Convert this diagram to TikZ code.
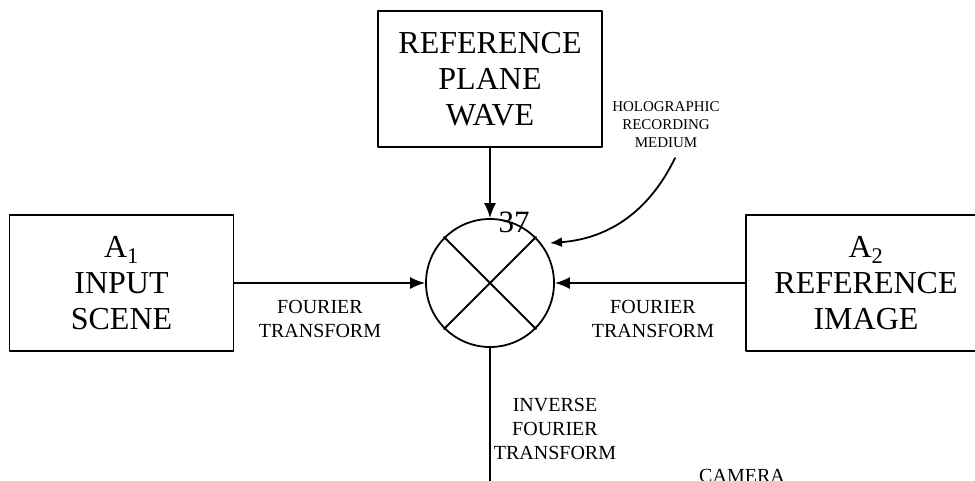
\documentclass[tikz,border=0pt]{standalone}
\usepackage{fontspec}
\setmainfont{Liberation Serif}
\usetikzlibrary{calc,arrows.meta}

\begin{document}
\begin{tikzpicture}[x=1pt,y=-1pt,line join=round,line cap=round,line width=1.8pt,
	>={Latex[length=15pt,width=12pt]},
	hop/.style={draw,line width=1.8pt,minimum width=224pt,minimum height=136pt,inner sep=0pt,align=center,font=\fontsize{32}{36}\selectfont},
	nhan/.style={inner sep=0pt,align=center,font=\fontsize{20}{24}\selectfont}]
	\useasboundingbox (0,0) rectangle (975,480);
	\clip (0,0) rectangle (975,480);
	% Bộ nhân ở giữa
	\def\bk{64}
	\coordinate (O) at (490,283);
	\node[draw,circle,minimum size=2*\bk pt,inner sep=0pt] (tron) at (O) {};
	\draw (tron.45)--(tron.225) (tron.135)--(tron.-45);
	\path (514,232) node[anchor=base,inner sep=0pt,font=\fontsize{31}{31}\selectfont] (so) {37};
	% Ba khối
	\node[hop] (song) at (490,79) {REFERENCE\\PLANE\\WAVE};
	\node[hop] (vao) at (121.5,283) {A\textsubscript{1}\\INPUT\\SCENE};
	\node[hop,minimum width=240pt] (anh) at (866,283) {A\textsubscript{2}\\REFERENCE\\IMAGE};
	\draw[->] (song.south)--(tron.north);
	\draw[->] (vao.east)--(tron.west);
	\draw[->] (anh.west)--(tron.east);
	\coordinate (day) at (490,495);
	\draw (tron.south)--(day);
	% Môi trường ghi
	\coordinate (goc) at (675,158);
	\coordinate (dich) at (550,243);
	\draw[-{Latex[length=12pt,width=10pt]}] (goc) to[bend left=30] (dich);
	\path (666,125) node[nhan,font=\fontsize{15}{18}\selectfont] (ghi) {HOLOGRAPHIC\\RECORDING\\MEDIUM};
	\path (320,318.5) node[nhan] (ft1) {FOURIER\\TRANSFORM};
	\path (653,318.5) node[nhan] (ft2) {FOURIER\\TRANSFORM};
	\path (555,428.5) node[nhan] (ift) {INVERSE\\FOURIER\\TRANSFORM};
	\path (742,468) node[nhan,anchor=north] (cam) {CAMERA};
\end{tikzpicture}
\end{document}
